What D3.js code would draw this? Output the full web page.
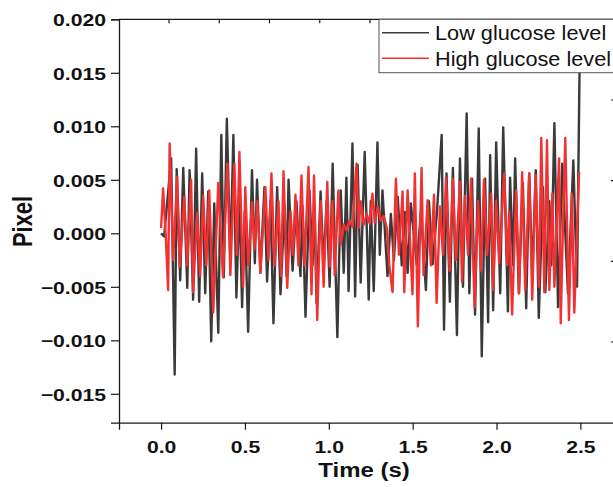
<!DOCTYPE html>
<html><head><meta charset="utf-8">
<script src="https://cdn.jsdelivr.net/npm/d3@7"></script>
<style>body{margin:0;background:#fff;overflow:hidden}</style>
</head><body>
<svg id="c" width="613" height="487"></svg>
<script>
// ---- data (time in s, signal in pixel) ----
const lowTime = [0.000,0.018,0.060,0.081,0.093,0.114,0.132,0.156,0.170,0.191,
0.209,0.227,0.245,0.263,0.281,0.299,0.317,0.341,0.359,0.374,
0.392,0.413,0.431,0.449,0.467,0.483,0.499,0.519,0.542,0.559,
0.572,0.592,0.616,0.632,0.652,0.670,0.692,0.712,0.736,0.748,
0.760,0.784,0.807,0.831,0.843,0.861,0.885,0.903,0.915,0.927,
0.951,0.969,0.987,1.005,1.023,1.051,1.071,1.089,1.105,1.118,
1.141,1.157,1.172,1.190,1.214,1.238,1.250,1.268,1.290,1.304,
1.320,1.350,1.370,1.388,1.411,1.435,1.453,1.470,1.489,1.525,
1.549,1.579,1.597,1.619,1.645,1.673,1.687,1.702,1.722,1.740,
1.764,1.782,1.800,1.822,1.838,1.854,1.872,1.894,1.912,1.932,
1.950,1.962,1.980,1.998,2.022,2.040,2.068,2.081,2.099,2.111,
2.133,2.157,2.177,2.195,2.213,2.234,2.252,2.277,2.291,2.315,
2.327,2.345,2.367,2.392,2.426,2.458,2.480,2.500];
const lowPixel = [0.0000,-0.0003,0.0070,-0.0132,0.0060,-0.0044,0.0061,-0.0051,0.0059,-0.0062,
0.0079,-0.0064,0.0056,-0.0056,0.0039,-0.0101,0.0028,-0.0093,0.0092,-0.0041,
0.0107,-0.0025,0.0092,-0.0060,0.0034,-0.0069,0.0020,-0.0092,0.0059,-0.0028,
0.0050,-0.0037,0.0043,-0.0045,0.0030,-0.0084,0.0043,-0.0057,0.0025,-0.0040,
0.0050,-0.0035,0.0030,-0.0040,0.0025,-0.0078,0.0040,-0.0030,0.0020,-0.0065,
0.0039,-0.0030,0.0030,-0.0050,0.0065,-0.0097,0.0040,-0.0037,0.0052,-0.0054,
0.0084,-0.0059,0.0064,-0.0046,0.0076,-0.0062,0.0030,-0.0054,0.0085,-0.0020,
0.0040,-0.0040,0.0018,-0.0025,0.0034,-0.0030,0.0020,-0.0037,0.0028,-0.0030,
0.0020,-0.0053,0.0030,-0.0029,0.0020,0.0092,-0.0090,0.0056,-0.0064,0.0061,
-0.0095,0.0070,-0.0050,0.0112,-0.0056,0.0051,-0.0076,0.0098,-0.0115,0.0051,
-0.0083,0.0073,-0.0072,0.0085,-0.0056,0.0099,-0.0073,0.0052,-0.0030,0.0070,
-0.0056,0.0047,-0.0070,0.0056,-0.0040,0.0059,-0.0079,0.0043,-0.0055,0.0030,
-0.0030,0.0103,-0.0069,0.0065,-0.0056,0.0068,-0.0050,0.0220];
const highTime = [0.000,0.012,0.027,0.042,0.051,0.072,0.096,0.111,0.138,0.156,
0.179,0.191,0.215,0.233,0.251,0.269,0.287,0.311,0.341,0.369,
0.395,0.413,0.437,0.452,0.467,0.489,0.502,0.520,0.542,0.556,
0.574,0.592,0.622,0.640,0.658,0.676,0.700,0.715,0.730,0.752,
0.772,0.786,0.801,0.819,0.837,0.855,0.879,0.897,0.912,0.931,
0.951,0.969,0.991,1.005,1.023,1.035,1.057,1.071,1.089,1.106,
1.124,1.142,1.165,1.178,1.190,1.208,1.226,1.244,1.260,1.274,
1.292,1.310,1.328,1.346,1.361,1.380,1.400,1.418,1.440,1.450,
1.470,1.499,1.513,1.531,1.553,1.565,1.589,1.609,1.627,1.643,
1.663,1.681,1.699,1.720,1.739,1.758,1.782,1.794,1.812,1.830,
1.848,1.869,1.890,1.908,1.925,1.944,1.968,1.980,1.998,2.016,
2.046,2.064,2.075,2.093,2.117,2.135,2.153,2.171,2.195,2.213,
2.233,2.253,2.267,2.285,2.301,2.315,2.333,2.345,2.373,2.383,
2.398,2.410,2.432,2.449,2.464,2.492,2.500];
const highPixel = [0.0005,0.0042,0.0000,-0.0053,0.0084,-0.0025,0.0053,-0.0031,0.0034,-0.0030,
0.0050,-0.0055,0.0019,-0.0040,0.0035,-0.0030,0.0040,-0.0074,0.0047,-0.0041,
0.0065,-0.0039,0.0065,-0.0020,0.0076,-0.0050,0.0043,-0.0030,0.0029,-0.0015,
0.0030,-0.0037,0.0043,-0.0025,0.0056,-0.0030,0.0030,-0.0040,0.0058,-0.0051,
0.0020,-0.0020,0.0036,-0.0030,0.0054,-0.0030,0.0062,-0.0057,0.0054,-0.0081,
0.0030,-0.0050,0.0048,-0.0031,0.0030,-0.0039,0.0040,-0.0010,0.0008,0.0003,
0.0012,0.0006,0.0065,0.0005,0.0030,0.0008,0.0018,0.0009,0.0037,0.0010,
0.0025,0.0012,0.0016,0.0005,-0.0030,-0.0055,0.0051,-0.0020,0.0039,-0.0055,
0.0040,-0.0057,0.0056,-0.0087,0.0061,-0.0039,0.0031,-0.0030,0.0036,-0.0065,
0.0025,-0.0020,0.0052,-0.0035,0.0051,-0.0025,0.0048,-0.0045,0.0035,-0.0020,
0.0051,-0.0069,0.0030,-0.0035,0.0050,-0.0020,0.0037,-0.0053,0.0030,-0.0028,
0.0056,-0.0030,0.0020,-0.0076,0.0040,-0.0056,0.0057,-0.0053,0.0056,-0.0062,
0.0054,-0.0050,0.0089,-0.0055,0.0087,-0.0053,0.0037,-0.0050,0.0070,-0.0084,
0.0020,0.0089,-0.0081,0.0037,-0.0074,0.0056,0.0056];
const seriesNames = ["Low glucose level", "High glucose level"];
const seriesColors = ["#3a3a3a", "#f23232"];
const xTicks = [0, 0.5, 1.0, 1.5, 2.0, 2.5];
const xMinorTicks = [-0.25, 0.25, 0.75, 1.25, 1.75, 2.25, 2.75];
const yTicks = [-0.015, -0.010, -0.005, 0.000, 0.005, 0.010, 0.015, 0.020];
const yMinorTicks = [-0.0175, -0.0125, -0.0075, -0.0025, 0.0025, 0.0075, 0.0125, 0.0175];
const xTitle = "Time (s)";
const yTitle = "Pixel";

// ---- layout ----
const L = 119, R = 615, T = 19.3, B = 422.7;
const SX = 1.23; // horizontal text stretch of the original picture
const svg = d3.select("#c");
const x = d3.scaleLinear().domain([-0.251, 2.7065]).range([L, R]);
const y = d3.scaleLinear().domain([-0.0177, 0.020]).range([B, T]);

svg.append("defs").append("clipPath").attr("id", "clip")
  .append("rect").attr("x", L).attr("y", T).attr("width", R - L).attr("height", B - T);

// data lines
const line = d3.line().x(d => x(d[0])).y(d => y(d[1]));
const lowData = lowTime.map((t, i) => [t, lowPixel[i]]);
const highData = highTime.map((t, i) => [t, highPixel[i]]);
const gData = svg.append("g").attr("clip-path", "url(#clip)");
gData.append("path").datum(lowData).attr("d", line)
  .attr("fill", "none").attr("stroke", seriesColors[0]).attr("stroke-width", 2.4).attr("stroke-linejoin", "round");
gData.append("path").datum(highData).attr("d", line)
  .attr("fill", "none").attr("stroke", seriesColors[1]).attr("stroke-width", 2.4).attr("stroke-linejoin", "round");

const axisColor = "#1a1a1a";
// frame: top and right
svg.append("line").attr("x1", L).attr("x2", R).attr("y1", T).attr("y2", T)
  .attr("stroke", axisColor).attr("stroke-width", 1.3);
svg.append("line").attr("x1", R).attr("x2", R).attr("y1", T).attr("y2", B)
  .attr("stroke", axisColor).attr("stroke-width", 1.3);
// top inner ticks (secondary scale)
const xTop = d3.scaleLinear().domain([0, 8]).range([169, 571]);
svg.append("g").selectAll("line").data(d3.range(0, 9)).join("line")
  .attr("x1", d => xTop(d)).attr("x2", d => xTop(d)).attr("y1", T).attr("y2", T + 4)
  .attr("stroke", axisColor).attr("stroke-width", 1.2);
// right inner ticks (secondary scale)
const yRight = d3.scaleLinear().domain([0, 3]).range([100, 342]);
svg.append("g").selectAll("line").data(d3.range(0, 4)).join("line")
  .attr("x1", R - 4).attr("x2", R).attr("y1", d => yRight(d)).attr("y2", d => yRight(d))
  .attr("stroke", axisColor).attr("stroke-width", 1.2);

// bottom axis
const gx = svg.append("g").attr("transform", `translate(0,${B})`);
gx.call(d3.axisBottom(x).tickValues(xMinorTicks).tickSize(4).tickFormat(""));
gx.call(d3.axisBottom(x).tickValues(xTicks).tickSize(7).tickPadding(3).tickFormat(d3.format(".1f")));
gx.selectAll(".domain").attr("stroke", axisColor).attr("stroke-width", 1.3);
gx.selectAll(".tick line").attr("stroke", axisColor).attr("stroke-width", 1.2);
gx.selectAll(".tick text")
  .attr("y", 17.6).attr("fill", "#111")
  .attr("font-family", "Liberation Sans, Arial, sans-serif").attr("font-weight", "bold").attr("font-size", 17.2)
  .attr("transform", `scale(${SX},1)`);

// left axis
const gy = svg.append("g").attr("transform", `translate(${L},0)`);
gy.call(d3.axisLeft(y).tickValues(yMinorTicks).tickSize(4).tickFormat(""));
gy.call(d3.axisLeft(y).tickValues(yTicks).tickSize(8).tickFormat(d3.format(".3f")));
gy.selectAll(".domain").attr("stroke", axisColor).attr("stroke-width", 1.3);
gy.selectAll(".tick line").attr("stroke", axisColor).attr("stroke-width", 1.2);
gy.selectAll(".tick text")
  .attr("x", null).attr("dy", "0.36em").attr("fill", "#111")
  .attr("font-family", "Liberation Sans, Arial, sans-serif").attr("font-weight", "bold").attr("font-size", 17.2)
  .attr("text-anchor", "end")
  .attr("transform", `translate(-13,0) scale(${SX},1)`);

// titles
svg.append("text").attr("transform", `translate(364,477) scale(${SX},1)`)
  .attr("text-anchor", "middle").attr("fill", "#111")
  .attr("font-family", "Liberation Sans, Arial, sans-serif").attr("font-weight", "bold").attr("font-size", 19.5)
  .text(xTitle);
svg.append("text").attr("transform", `translate(32,221.5) scale(${SX},1) rotate(-90)`)
  .attr("text-anchor", "middle").attr("fill", "#111")
  .attr("font-family", "Liberation Sans, Arial, sans-serif").attr("font-weight", "bold").attr("font-size", 21.8)
  .text(yTitle);

// legend
const lg = svg.append("g");
lg.append("rect").attr("x", 379).attr("y", T).attr("width", 260).attr("height", 72.7 - T)
  .attr("fill", "#fff").attr("stroke", "#555").attr("stroke-width", 1);
const legendRows = [32.7, 58.3];
seriesNames.forEach((name, i) => {
  lg.append("line").attr("x1", 382).attr("x2", 429).attr("y1", legendRows[i]).attr("y2", legendRows[i])
    .attr("stroke", seriesColors[i]).attr("stroke-width", 1.6);
  lg.append("text").attr("transform", `translate(435,${legendRows[i] + 7.2}) scale(1.085,1)`)
    .attr("fill", "#111").attr("font-family", "Liberation Sans, Arial, sans-serif").attr("font-size", 20)
    .text(name);
});
</script>
</body></html>
